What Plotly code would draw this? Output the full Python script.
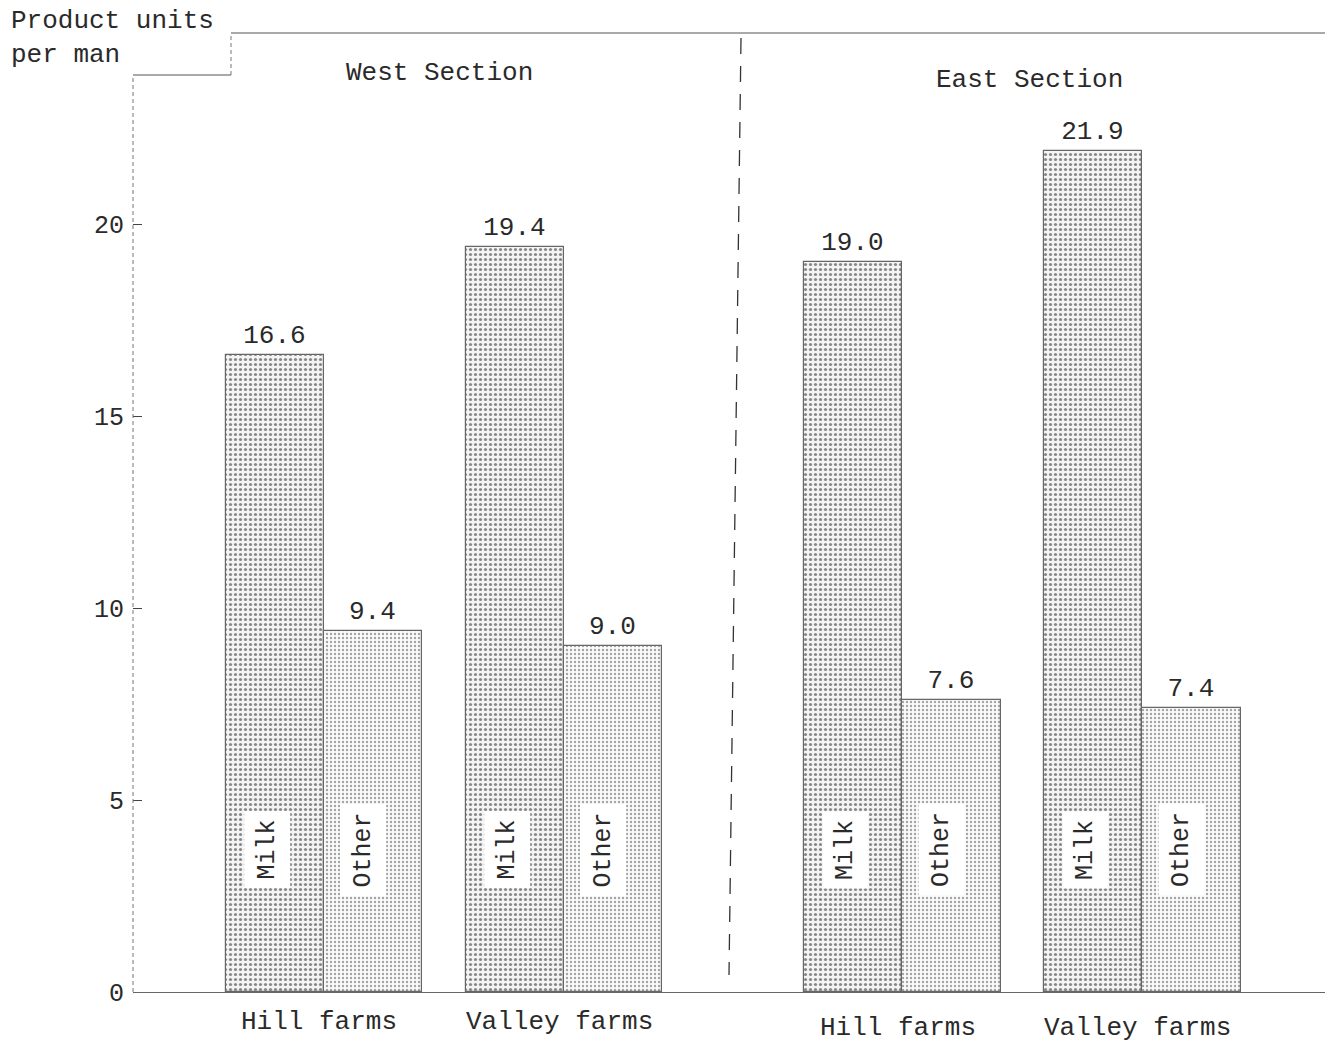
import plotly.graph_objects as go

# ---- data ----
sections = ["West Section", "West Section", "East Section", "East Section"]
farm_types = ["Hill farms", "Valley farms", "Hill farms", "Valley farms"]
milk = [16.6, 19.4, 19.0, 21.9]
other = [9.4, 9.0, 7.6, 7.4]
series_names = ["Milk", "Other"]
y_ticks = [0, 5, 10, 15, 20]
y_title = "Product units<br>per man"

# ---- layout helpers ----
FONT = "Liberation Mono, Courier New, monospace"
TXT = "#2a2a2a"
SECTION_GAP = 0.41
BAR_W = 0.41
section_order = []
for s in sections:
    if s not in section_order:
        section_order.append(s)
pos = [i + SECTION_GAP * section_order.index(s) for i, s in enumerate(sections)]

W, H = 1325, 1044
ML, MR, MT, MB = 133, 0, 32, 52
PX_PER_UNIT = 240.0
X0 = 324  # pixel of first group centre
x_range = [(ML - X0) / PX_PER_UNIT, (W - MR - X0) / PX_PER_UNIT]
Y_MAX = 25.0
plot_h = H - MT - MB
plot_w = W - ML - MR


def py(pix):  # pixel y -> paper y
    return (H - MB - pix) / plot_h


def px(pix):  # pixel x -> paper x
    return (pix - ML) / plot_w


fig = go.Figure()

fig.add_trace(go.Bar(
    x=[p - BAR_W / 2 for p in pos], y=milk, width=BAR_W, name=series_names[0],
    text=[f"{v:.1f}" for v in milk], textposition="outside",
    textfont=dict(family=FONT, size=26, color=TXT), cliponaxis=False,
    marker=dict(color="white",
                pattern=dict(shape=".", fgcolor="#1a1a1a", bgcolor="#f4f4f4", size=5, solidity=0.32),
                line=dict(color="#666666", width=1.2)),
))
fig.add_trace(go.Bar(
    x=[p + BAR_W / 2 for p in pos], y=other, width=BAR_W, name=series_names[1],
    text=[f"{v:.1f}" for v in other], textposition="outside",
    textfont=dict(family=FONT, size=26, color=TXT), cliponaxis=False,
    marker=dict(color="white",
                pattern=dict(shape=".", fgcolor="#505050", bgcolor="#fafafa", size=4, solidity=0.28),
                line=dict(color="#666666", width=1.2)),
))

annotations = []
# vertical series labels inside bars
for p in pos:
    for k, name in enumerate(series_names):
        xc = p - BAR_W / 2 - 0.03 if k == 0 else p + BAR_W / 2 - 0.04
        annotations.append(dict(
            x=xc, y=3.7, xref="x", yref="y", text=name, showarrow=False,
            textangle=-90, font=dict(family=FONT, size=25, color=TXT),
            bgcolor="white", borderpad=8,
        ))
# farm type labels below
for p, f, s in zip(pos, farm_types, sections):
    annotations.append(dict(
        x=p - 0.02, y=py(1022 if section_order.index(s) == 0 else 1028), xref="x", yref="paper",
        text=f, showarrow=False, font=dict(family=FONT, size=26, color=TXT),
        xanchor="center", yanchor="middle",
    ))
# section labels
for j, s in enumerate(section_order):
    ps = [p for p, ss in zip(pos, sections) if ss == s]
    annotations.append(dict(
        x=sum(ps) / len(ps) - 0.02 + 0.05 * j, y=py(73 + 7 * j), xref="x", yref="paper",
        text=s, showarrow=False, font=dict(family=FONT, size=26, color=TXT),
        xanchor="center", yanchor="middle",
    ))
# y title
annotations.append(dict(
    x=px(9), y=py(38), xref="paper", yref="paper", text=y_title, showarrow=False,
    align="left", xanchor="left", yanchor="middle",
    font=dict(family=FONT, size=26, color=TXT),
))

shapes = [
    # left axis (dotted/dashed)
    dict(type="line", xref="paper", yref="paper", x0=0, x1=0, y0=0, y1=py(75),
         line=dict(color="#777777", width=1, dash="4px,3px")),
    # stepped top border
    dict(type="line", xref="paper", yref="paper", x0=0, x1=px(231), y0=py(75), y1=py(75),
         line=dict(color="#555555", width=1.2)),
    dict(type="line", xref="paper", yref="paper", x0=px(231), x1=px(231), y0=py(75), y1=py(33),
         line=dict(color="#777777", width=1, dash="4px,3px")),
    dict(type="line", xref="paper", yref="paper", x0=px(231), x1=1, y0=py(33), y1=py(33),
         line=dict(color="#555555", width=1.2)),
    # section divider
    dict(type="line", xref="paper", yref="paper", x0=px(741), x1=px(729), y0=py(38), y1=py(975),
         line=dict(color="#333333", width=1.3, dash="16px,12px")),
]

fig.update_layout(
    width=W, height=H,
    margin=dict(l=ML, r=MR, t=MT, b=MB),
    paper_bgcolor="white", plot_bgcolor="white",
    barmode="overlay", bargap=0, showlegend=False,
    annotations=annotations, shapes=shapes,
    font=dict(family=FONT, size=24, color=TXT),
    xaxis=dict(range=x_range, showgrid=False, zeroline=False, showticklabels=False,
               showline=True, linecolor="#666666", linewidth=1, ticks=""),
    yaxis=dict(range=[0, Y_MAX], tickvals=y_ticks, showgrid=False, zeroline=False,
               showline=False, ticks="inside", ticklen=9, tickcolor="#444444",
               ticklabelstandoff=8,
               tickfont=dict(family=FONT, size=25, color=TXT)),
)

fig.write_html(
    "out.html",
    config={"displayModeBar": False},
    post_script="document.body.style.margin='0';document.body.style.overflow='hidden';",
)
